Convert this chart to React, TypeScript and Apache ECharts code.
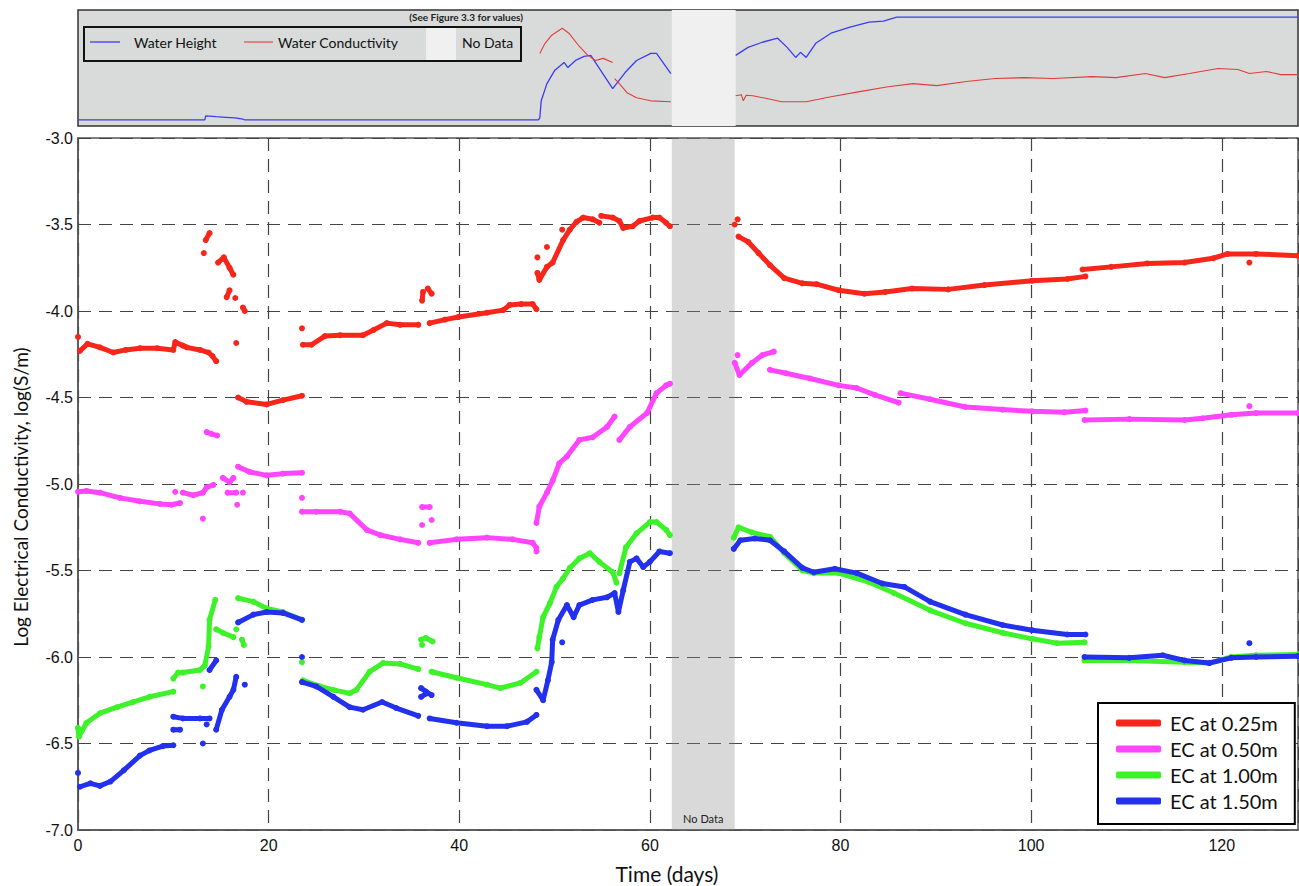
import React, { useEffect, useRef } from "react";
import * as echarts from "echarts";

type Pt = [number, number];
type Seg = Pt[];

// ---- Main panel data: log EC (log S/m) vs time (days), as runs of readings ----
const ec025: Seg[] = [
  [[0, -4.15]],
  [[0.2, -4.23], [1.0, -4.19], [2.3, -4.21], [3.7, -4.24], [5, -4.225], [6.5, -4.215], [8.3, -4.215], [10, -4.225], [10.2, -4.18], [11, -4.2], [11.4, -4.21], [12.8, -4.225], [13.7, -4.24], [14.1, -4.26], [14.5, -4.29]],
  [[13.2, -3.665]],
  [[13.4, -3.59], [13.8, -3.55]],
  [[14.7, -3.72], [15.3, -3.69], [15.9, -3.75], [16.3, -3.79]],
  [[15.6, -3.92], [15.9, -3.88]],
  [[16.5, -3.925]],
  [[17.3, -3.98], [17.5, -4.0]],
  [[16.6, -4.185]],
  [[16.8, -4.5], [17.7, -4.525], [19.8, -4.54], [21.5, -4.515], [23.5, -4.49]],
  [[23.5, -4.1]],
  [[23.6, -4.195], [24.5, -4.195], [25.9, -4.145], [27.5, -4.14], [29.9, -4.14], [31, -4.11], [32.4, -4.07], [33.8, -4.08], [35.7, -4.08]],
  [[36.1, -3.94], [36.2, -3.89]],
  [[36.7, -3.87], [37.1, -3.9]],
  [[36.9, -4.07], [38.5, -4.05], [39.9, -4.035], [42.9, -4.01], [44.6, -3.995], [45.3, -3.965], [46.5, -3.96], [47.7, -3.96], [48.1, -3.99]],
  [[48.2, -3.69]],
  [[49.2, -3.63]],
  [[50.8, -3.53]],
  [[48.2, -3.78], [48.4, -3.82], [49.2, -3.745], [49.8, -3.72], [50.9, -3.59], [51.6, -3.53], [52.3, -3.485], [53, -3.46], [54, -3.47], [54.7, -3.49]],
  [[54.9, -3.45], [56.1, -3.46], [56.8, -3.48], [57.2, -3.52], [58.2, -3.51], [58.9, -3.48], [60.3, -3.46], [61, -3.46], [61.7, -3.49], [62.1, -3.51]],
  [[69.2, -3.47]],
  [[68.9, -3.5]],
  [[69.3, -3.57], [70.3, -3.6], [71.4, -3.665], [72.6, -3.735], [74.1, -3.81], [76, -3.84], [77.5, -3.845], [79.8, -3.88], [82.5, -3.9], [84.7, -3.89], [87.5, -3.87], [91.3, -3.875], [95.1, -3.85], [100.1, -3.825], [103.8, -3.815], [105.7, -3.8]],
  [[105.4, -3.76], [108.4, -3.745], [112.2, -3.725], [116.1, -3.72], [119.1, -3.695], [120.6, -3.67], [123.6, -3.67], [128, -3.68]],
  [[122.9, -3.72]],
];

const ec050: Seg[] = [
  [[0, -5.045], [0.9, -5.04], [2.3, -5.05], [4.4, -5.08], [6.5, -5.1], [8.6, -5.115], [9.8, -5.12], [10.7, -5.11]],
  [[10.2, -5.045]],
  [[11, -5.05], [12.1, -5.065], [13.1, -5.05], [13.5, -5.02], [14.2, -5.005]],
  [[13.1, -5.2]],
  [[13.5, -4.7], [14, -4.71], [14.6, -4.72]],
  [[15.2, -4.965], [15.9, -4.99], [16.3, -4.965]],
  [[15.7, -5.05], [16.6, -5.05]],
  [[16.7, -5.12]],
  [[17.3, -5.05]],
  [[16.8, -4.9], [18, -4.93], [19.8, -4.95], [21.5, -4.94], [23.5, -4.935]],
  [[23.5, -5.08]],
  [[23.5, -5.16], [25, -5.16], [27.5, -5.16], [28.5, -5.17], [30.3, -5.265], [31.7, -5.295], [33.8, -5.32], [35.7, -5.34]],
  [[36.1, -5.133], [36.9, -5.133]],
  [[36.1, -5.237]],
  [[37.1, -5.208]],
  [[36.9, -5.34], [39.7, -5.32], [42.9, -5.31], [45.6, -5.32], [47.7, -5.34], [48.1, -5.37]],
  [[48.1, -5.39]],
  [[48.1, -5.225], [48.4, -5.13], [49.2, -5.05], [49.8, -4.98], [50.5, -4.88], [51.3, -4.84], [52.6, -4.745], [54, -4.73], [55.5, -4.67], [56.3, -4.61]],
  [[56.8, -4.745], [57.9, -4.67], [59.7, -4.59], [60.7, -4.475], [61.7, -4.43], [62.1, -4.42]],
  [[69.2, -4.255]],
  [[68.9, -4.3], [69.4, -4.37], [70.7, -4.3], [71.8, -4.255], [73, -4.235]],
  [[72.6, -4.34], [74.3, -4.36], [76.8, -4.39], [79.8, -4.43], [81.7, -4.445], [83.6, -4.485], [86.1, -4.53]],
  [[86.3, -4.475], [89.4, -4.51], [93.1, -4.555], [97, -4.57], [100.1, -4.58], [103.5, -4.585], [105.7, -4.575]],
  [[105.6, -4.63], [110.3, -4.625], [116.1, -4.63], [118, -4.62], [121, -4.6], [123.6, -4.59], [128, -4.59]],
  [[122.9, -4.55]],
];

const ec100: Seg[] = [
  [[0, -6.41], [0.1, -6.46], [0.9, -6.38], [2.3, -6.325], [4.1, -6.29], [5.8, -6.26], [7.5, -6.23], [10, -6.2]],
  [[10, -6.125], [10.5, -6.09], [11, -6.09], [12.8, -6.075], [13.3, -6.05], [13.7, -5.94], [13.8, -5.785], [14.4, -5.67]],
  [[13.1, -6.17]],
  [[14.5, -5.84], [15.2, -5.86], [16.3, -5.885]],
  [[16.6, -5.84]],
  [[17.2, -5.9], [17.4, -5.93]],
  [[16.8, -5.66], [18.4, -5.68], [19.8, -5.72], [21.5, -5.74], [23.5, -5.785]],
  [[23.5, -6.03]],
  [[23.6, -6.135], [25.4, -6.17], [26.8, -6.19], [28.5, -6.21], [29.2, -6.19], [30.6, -6.085], [32, -6.035], [33.8, -6.04], [35.7, -6.07]],
  [[36, -5.9], [36.5, -5.89], [37.2, -5.91]],
  [[36.1, -5.93]],
  [[37.1, -6.085], [39.7, -6.12], [42.9, -6.16], [44.3, -6.18], [46.4, -6.15], [48.1, -6.085]],
  [[48.2, -5.95], [48.4, -5.885], [48.8, -5.77], [49.5, -5.69], [50.2, -5.595], [50.9, -5.545], [51.6, -5.485], [52.6, -5.43], [53.7, -5.4], [54.7, -5.45], [56.1, -5.51], [56.5, -5.57]],
  [[56.8, -5.515], [57.5, -5.365], [58.6, -5.285], [60, -5.22], [60.7, -5.22], [61.7, -5.265], [62.1, -5.295]],
  [[68.8, -5.31], [69.3, -5.25], [70.7, -5.28], [72.6, -5.305], [74.1, -5.4], [76, -5.5], [77.2, -5.515], [79.8, -5.515], [82.9, -5.565], [85.6, -5.63], [89.4, -5.73], [93.1, -5.805], [97, -5.86], [100.1, -5.895], [102.7, -5.92], [105.6, -5.915]],
  [[105.6, -6.02], [110.3, -6.02], [116.1, -6.03], [118.7, -6.035], [121, -6.0], [123.6, -5.99], [128, -5.985]],
];

const ec150: Seg[] = [
  [[0, -6.67]],
  [[0.2, -6.75], [1.3, -6.73], [2.3, -6.745], [3.4, -6.72], [4.8, -6.655], [6.5, -6.57], [7.5, -6.54], [8.9, -6.515], [10, -6.51]],
  [[10, -6.42], [10.7, -6.42]],
  [[10, -6.345], [11, -6.355], [12.8, -6.355], [13.8, -6.355]],
  [[13.5, -6.39]],
  [[13.1, -6.5]],
  [[13.8, -6.075], [14.5, -6.02]],
  [[14.5, -6.42], [15.1, -6.305], [15.9, -6.23], [16.3, -6.19], [16.6, -6.115]],
  [[17.5, -6.16]],
  [[16.8, -5.8], [18.4, -5.755], [19.8, -5.74], [21.5, -5.745], [23.5, -5.785]],
  [[23.5, -6.0]],
  [[23.5, -6.145], [25, -6.17], [26.8, -6.23], [28.5, -6.29], [29.9, -6.305], [31.9, -6.26], [33.4, -6.295], [35.7, -6.34]],
  [[36, -6.18], [36.5, -6.2], [37.1, -6.22]],
  [[36, -6.23], [36.6, -6.21]],
  [[36.9, -6.355], [39.7, -6.38], [42.9, -6.4], [45, -6.4], [47.1, -6.375], [48.1, -6.335]],
  [[48.1, -6.19], [48.8, -6.25], [49.3, -6.135], [49.7, -6.03], [49.8, -5.9], [50.4, -5.785], [51.3, -5.7], [52, -5.77], [52.6, -5.7], [54, -5.67], [55.5, -5.655], [56.3, -5.63], [56.7, -5.74], [57.2, -5.615], [57.9, -5.45], [58.6, -5.43], [59.3, -5.48], [60, -5.45], [61, -5.39], [62.1, -5.4]],
  [[50.8, -5.915]],
  [[68.8, -5.375], [69.5, -5.325], [71, -5.315], [72.6, -5.325], [74.1, -5.39], [76, -5.485], [77.2, -5.51], [79.4, -5.49], [81.7, -5.515], [84.4, -5.575], [86.7, -5.595], [89.4, -5.68], [93.1, -5.755], [97, -5.815], [100.1, -5.845], [103.8, -5.87], [105.7, -5.87]],
  [[105.6, -6.0], [110.3, -6.005], [113.8, -5.99], [116.1, -6.02], [118.7, -6.035], [121, -6.005], [123.6, -6.0], [128, -5.995]],
  [[122.9, -5.92]],
];

// ---- Inset data (relative level, 0-100) ----
const waterHeight: Seg[] = [
  [[0, 5.2], [13.3, 5.2], [13.4, 8.7], [14.5, 8], [15.5, 7.5], [16.5, 7], [17.3, 6], [17.5, 5.2], [48.3, 5.2], [48.45, 7], [48.6, 21.7], [49.2, 36.5], [50, 47.8], [51, 54.8], [51.4, 50.4], [52.2, 56.5], [53.1, 60], [53.8, 60.9], [56.1, 32.2], [57.4, 46.1], [58.6, 56.5], [60.1, 62.6], [60.7, 62.6], [62.2, 45.2]],
  [[69, 60.9], [70.3, 67.8], [71.8, 72.2], [73.4, 75.7], [74.4, 67.8], [75.3, 59.1], [75.8, 63.5], [76.4, 59.1], [77.4, 71.3], [79, 80], [81, 85.2], [83, 89.6], [84.5, 90.4], [85.9, 93.9], [128, 93.9]],
];
const waterCond: Seg[] = [
  [[48.45, 62.6], [49, 71.3], [49.7, 78.3], [50.8, 84.3], [51.5, 80], [52.5, 69.6], [53.5, 60.9], [54.3, 56.5], [55.1, 58.3], [56.1, 54.8]],
  [[56.3, 40.9], [56.8, 36.5], [57.6, 28.7], [58.6, 24.3], [60.1, 21.7], [62.2, 20.9]],
  [[69, 26.1], [69.6, 27], [69.8, 21.7], [70.1, 26.5], [70.8, 26.1], [72.4, 23.5], [73.8, 20.9], [76.4, 20.9], [79, 25.2], [82, 29.6], [85, 33.9], [87.6, 36.5], [90.1, 34.8], [93.2, 38.3], [96.2, 40.9], [99.3, 41.7], [102.3, 40.9], [106.4, 42.6], [108.9, 41.7], [112, 45.2], [114, 41.7], [116.6, 45.2], [119.6, 49.6], [121.7, 48.7], [122.9, 45.2], [124.7, 47], [126.2, 44.3], [128, 44.3]],
];

const noDataRange: [number, number] = [62.3, 68.9];
const seriesNames = ["EC at 0.25m", "EC at 0.50m", "EC at 1.00m", "EC at 1.50m"];
const seriesColors = ["#f8261a", "#ff45ff", "#3ef22a", "#2330ee"];
const xMin = 0, xMax = 128, xStep = 20;
const yMin = -7, yMax = -3, yStep = 0.5;

export default function App() {
  const ref = useRef<HTMLDivElement>(null);
  useEffect(() => {
    if (!ref.current) return;
    const chart = echarts.init(ref.current, undefined, { renderer: "svg" });
    const groups = [ec025, ec050, ec100, ec150];
    const series: any[] = [];
    groups.forEach((segs, gi) => {
      segs.forEach((seg, si) => {
        const s: any = {
          type: "line",
          name: seriesNames[gi],
          xAxisIndex: 0,
          yAxisIndex: 0,
          data: seg,
          showSymbol: true,
          symbol: "circle",
          symbolSize: 6,
          lineStyle: { color: seriesColors[gi], width: 5, cap: "round", join: "round" },
          itemStyle: { color: seriesColors[gi] },
          silent: true,
          z: 3 + gi,
        };
        if (gi === 0 && si === 0) {
          s.markArea = {
            silent: true,
            itemStyle: { color: "rgba(140,140,140,0.33)" },
            label: { show: true, position: "insideBottom", distance: 6, color: "#222", fontSize: 11, fontFamily: "Lato" },
            data: [[{ xAxis: noDataRange[0], name: "No Data" }, { xAxis: noDataRange[1] }]],
          };
        }
        series.push(s);
      });
    });
    const inset = (segs: Seg[], name: string, color: string, w: number, withBand: boolean) =>
      segs.forEach((seg, i) => {
        const s: any = {
          type: "line",
          name,
          xAxisIndex: 1,
          yAxisIndex: 1,
          data: seg,
          showSymbol: false,
          lineStyle: { color, width: w },
          silent: true,
          z: 3,
        };
        if (withBand && i === 0) {
          s.markArea = {
            silent: true,
            itemStyle: { color: "#f0f0f0" },
            data: [[{ xAxis: noDataRange[0] }, { xAxis: 69.0 }]],
          };
        }
        series.push(s);
      });
    inset(waterHeight, "Water Height", "#3b3bf5", 1.3, true);
    inset(waterCond, "Water Conductivity", "#e23c3c", 1.1, false);

    chart.setOption({
      animation: false,
      grid: [
        { left: 78, right: 1, top: 138, bottom: 56, show: true, borderColor: "#555", borderWidth: 1.5, backgroundColor: "#fff" },
        { left: 78, right: 1, top: 10, height: 116, show: true, borderColor: "#333", borderWidth: 1.5, backgroundColor: "#d9dbdb" },
      ],
      xAxis: [
        {
          type: "value", gridIndex: 0, min: xMin, max: xMax, interval: xStep,
          axisLine: { show: true, lineStyle: { color: "#555", width: 1.5 } },
          axisTick: { show: false },
          axisLabel: { color: "#111", fontSize: 16, fontFamily: "Liberation Sans", margin: 7, showMaxLabel: false },
          splitLine: { show: true, lineStyle: { color: "#444", width: 1.2, type: [13, 8] } },
        },
        { type: "value", gridIndex: 1, min: xMin, max: xMax, show: false, splitLine: { show: false } },
      ],
      yAxis: [
        {
          type: "value", gridIndex: 0, min: yMin, max: yMax, interval: yStep,
          axisLine: { show: true, lineStyle: { color: "#555", width: 1.5 } },
          axisTick: { show: false },
          axisLabel: { color: "#111", fontSize: 16, fontFamily: "Liberation Sans", margin: 5, formatter: (v: number) => v.toFixed(1) },
          splitLine: { show: true, lineStyle: { color: "#444", width: 1.2, type: [13, 8] } },
        },
        { type: "value", gridIndex: 1, min: 0, max: 100, show: false, splitLine: { show: false } },
      ],
      legend: {
        data: seriesNames,
        orient: "vertical",
        left: 1098,
        top: 703,
        padding: [9, 17, 12, 18],
        itemGap: 4,
        itemWidth: 45,
        itemHeight: 7,
        icon: "roundRect",
        borderColor: "#000",
        borderWidth: 2,
        borderRadius: 0,
        backgroundColor: "#fff",
        selectedMode: false,
        textStyle: { fontSize: 20, fontFamily: "Lato", color: "#111", lineHeight: 22, padding: [0, 0, 0, 4] },
      },
      graphic: [
        { type: "rect", shape: { x: 84, y: 27, width: 437, height: 34 }, style: { fill: "none", stroke: "#111", lineWidth: 2 }, z: 20 },
        { type: "line", shape: { x1: 90, y1: 42, x2: 120, y2: 42 }, style: { stroke: "#3b3bf5", lineWidth: 1.3 }, z: 20 },
        { type: "text", x: 134, y: 42, style: { text: "Water Height", fontSize: 14, fontFamily: "Lato", fill: "#111", textVerticalAlign: "middle" }, z: 20 },
        { type: "line", shape: { x1: 244, y1: 42, x2: 273, y2: 42 }, style: { stroke: "#e23c3c", lineWidth: 1.1 }, z: 20 },
        { type: "text", x: 278, y: 42, style: { text: "Water Conductivity", fontSize: 14, fontFamily: "Lato", fill: "#111", textVerticalAlign: "middle" }, z: 20 },
        { type: "rect", shape: { x: 426, y: 28, width: 30, height: 32 }, style: { fill: "#f0f0f0" }, z: 19 },
        { type: "text", x: 462, y: 42, style: { text: "No Data", fontSize: 14, fontFamily: "Lato", fill: "#111", textVerticalAlign: "middle" }, z: 20 },
        { type: "text", x: 523, y: 17, style: { text: "(See Figure 3.3 for values)", fontSize: 10, fontFamily: "Lato", fontWeight: "bold", fill: "#222", textAlign: "right", textVerticalAlign: "middle" }, z: 20 },
        { type: "text", x: 667, y: 873, style: { text: "Time (days)", fontSize: 21, fontFamily: "Lato", fill: "#111", textAlign: "center", textVerticalAlign: "middle" }, z: 20 },
        { type: "text", x: 20, y: 497, rotation: Math.PI / 2, style: { text: "Log Electrical Conductivity, log(S/m)", fontSize: 19, fontFamily: "Lato", fill: "#111", textAlign: "center", textVerticalAlign: "middle" }, z: 20 },
      ],
      series,
    });
    return () => chart.dispose();
  }, []);
  return <div ref={ref} style={{ position: "absolute", left: 0, top: 0, width: 1299, height: 886, background: "#fff" }} />;
}
